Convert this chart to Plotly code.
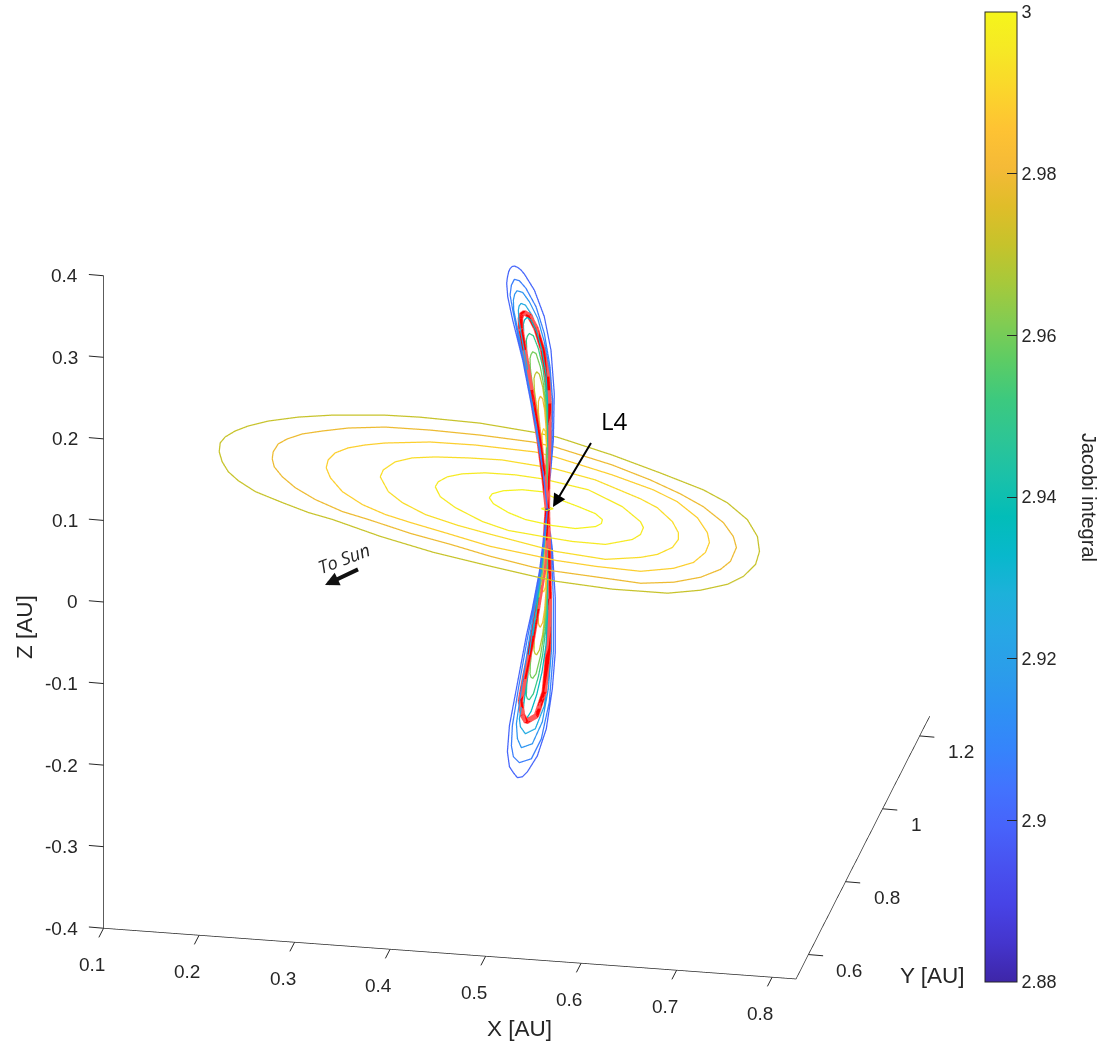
import plotly.graph_objects as go

# Jacobi integral of each orbit
J_planar = [2.9714, 2.979, 2.9886, 2.9924, 2.996, 2.999]
J_vertical = [2.90, 2.907, 2.915, 2.925, 2.935, 2.95, 2.96, 2.97, 2.98, 2.99]

# Planar orbits around L4 (z = 0)
E1_x = [.1396,.136,.138,.145,.1555,.1732,.2014,.2347,.2882,.3245,.3882,.4463,.4731,.5378,.5956,.6477,.6786,.7076,.7264,.7361,.7388,.7328,.7208,.6965,.6648,.6366,.6072,.5456,.5209,.4723,.4075,.3458,.2887,.2609,.2294,.1966,.1737,.159,.1477]
E1_y = [.9527,.9765,.9933,1.011,1.0266,1.0436,1.0599,1.0717,1.0819,1.0834,1.0792,1.0657,1.0572,1.0205,.9824,.9461,.9165,.8756,.8329,.7939,.7589,.725,.7009,.6799,.6656,.6657,.6655,.6756,.6845,.7025,.7283,.7602,.7957,.8094,.8307,.8544,.8801,.9018,.927]
E2_x = [.1967,.1941,.1951,.2016,.2141,.2328,.2575,.2944,.3413,.3944,.4515,.4762,.543,.5891,.6266,.6565,.6849,.7021,.7108,.7119,.706,.6899,.6652,.6325,.6021,.5405,.5162,.4672,.4206,.3746,.325,.2946,.2612,.2348,.2161,.2028]
E2_y = [.9445,.9631,.9851,1.0,1.016,1.0277,1.0407,1.0504,1.0512,1.0476,1.0394,1.0305,.9942,.962,.931,.9014,.8631,.8282,.7999,.762,.7389,.7141,.6958,.6867,.6918,.7019,.7082,.7288,.7527,.7739,.8026,.8186,.845,.8726,.899,.9238]
E3_x = [.2558,.2537,.2572,.2677,.2834,.3026,.3475,.3944,.4586,.4814,.5481,.5972,.6276,.656,.6738,.681,.6821,.6752,.658,.6263,.5783,.5348,.5146,.462,.412,.3689,.3396,.3112,.2844,.2651]
E3_y = [.9312,.9526,.9723,.9881,.9992,1.0083,1.0196,1.0204,1.0136,1.0042,.9679,.9364,.9095,.8712,.8337,.8078,.7807,.7521,.7326,.7183,.7227,.7308,.7379,.7551,.781,.8028,.819,.8409,.8712,.9057]
E4_x = [.315,.3145,.3224,.3375,.3602,.3941,.4294,.4688,.4875,.5336,.5888,.6105,.6329,.6445,.6481,.6462,.6346,.6191,.5847,.5302,.5129,.4523,.4189,.38,.3505,.3308]
E4_y = [.9179,.9369,.9603,.9741,.9811,.9849,.9861,.9773,.9727,.9514,.9102,.8898,.8559,.8281,.8097,.7876,.7663,.7551,.7431,.7545,.7622,.7887,.8041,.8267,.8539,.8801]
E5_x = [.3756,.3761,.3827,.3962,.4189,.4502,.4796,.4942,.5316,.5747,.6006,.6067,.6073,.6017,.577,.5422,.5094,.4907,.4719,.4411,.4066,.3858]
E5_y = [.9022,.916,.9308,.9416,.9487,.9492,.9439,.9385,.9239,.8858,.8497,.8345,.8155,.8009,.7826,.784,.7914,.7961,.8007,.8193,.8509,.8769]
E6_x = [.4358,.4368,.4463,.465,.4863,.4988,.5303,.5511,.5612,.5622,.5578,.5386,.5137,.4835,.4627,.4429]
E6_y = [.8837,.8948,.9048,.9112,.9097,.8985,.8773,.8621,.8477,.837,.8279,.8188,.8223,.8329,.848,.8687]
E7_x = [.494,.5,.506,.5]
E7_y = [.865,.871,.867,.861]

# Vertical orbits: offset towards the Sun and height, upper lobe
V1_r = [.0073,.0204,.0386,.0543,.0621,.0637,.0626,.0605,.0584,.0553,.0516,.0465,.0412,.036,.0204,.0047,-.0057,-.0109,-.0094,-.0041]
V1_z = [.0537,.1154,.1954,.2499,.2813,.2982,.3051,.3115,.3143,.3158,.3152,.3118,.3067,.3,.275,.2368,.1923,.1374,.0806,.0333]
V2_r = [.0073,.0203,.036,.049,.0542,.0584,.0563,.0516,.0438,.0334,.0177,.0047,-.0042,-.0083,-.0073,-.0031]
V2_z = [.0496,.1154,.1863,.2399,.2622,.282,.2935,.2989,.2945,.2815,.2536,.2164,.1724,.13,.0772,.0337]
V3_r = [.0063,.0177,.0334,.0464,.0527,.0532,.0511,.0475,.0386,.0282,.0151,.0047,-.0031,-.0063,-.0052,-.0021]
V3_z = [.0492,.1104,.1813,.2349,.2616,.2741,.2807,.2835,.2784,.2634,.2384,.2061,.1686,.1267,.078,.034]
V4_r = [.0057,.0167,.0308,.0412,.0448,.0454,.0443,.0412,.0344,.024,.0125,.0037,-.0021,-.0047,-.0037,-.001]
V4_z = [.049,.1101,.1804,.229,.2487,.2591,.2636,.2658,.2614,.2455,.2191,.1915,.1608,.1231,.0785,.0344]
V5_r = [.0042,.0125,.0229,.0318,.037,.0375,.0355,.0318,.0256,.0167,.0083,.0021,-.0005,-.0005,0]
V5_z = [.0362,.0882,.1491,.1971,.2276,.2392,.2438,.2454,.24,.2225,.1972,.1664,.1288,.0798,.0348]
V6_r = [.0037,.0115,.0203,.0282,.0323,.0329,.0313,.0282,.0219,.0141,.0073,.0031,.0005,.0005,.0005]
V6_z = [.036,.0837,.1359,.1795,.2055,.218,.2223,.2245,.2195,.2012,.1764,.1504,.1168,.0716,.0307]
V7_r = [.0031,.0094,.0167,.0229,.0266,.0271,.0256,.0229,.0177,.011,.0057,.0026,.0016,.001]
V7_z = [.0318,.0748,.1182,.1573,.181,.1935,.1978,.2002,.1963,.1776,.1533,.1256,.0926,.0515]
V8_r = [.0021,.0063,.0115,.0167,.0203,.0209,.0193,.0167,.0125,.0073,.0037,.0021,.001,.0005]
V8_z = [.0232,.0574,.096,.1305,.1522,.1667,.1711,.1735,.1692,.1518,.1301,.105,.0679,.0307]
V9_r = [.0026,.0063,.011,.0141,.0141,.0125,.011,.0073,.0042,.0021,.001,.0005]
V9_z = [.0316,.0656,.0999,.1235,.1357,.1397,.1416,.1371,.1221,.1009,.0719,.0348]
V10_r = [.0031,.0057,.0078,.0083,.0073,.0057,.0031,.0016,.0005,.0005]
V10_z = [.04,.0654,.0825,.0929,.0978,.1002,.0952,.0803,.0595,.0307]
RED_r = [.0047,.0136,.0256,.036,.0417,.0422,.0402,.036,.0282,.0177,.0073,0,-.0026,-.0021,-.0005]
RED_z = [.0364,.0926,.1541,.2067,.2353,.2478,.2519,.2526,.2462,.227,.1968,.1616,.1279,.0831,.0346]

# Lower lobes read separately for the largest orbits
V1_low_r = [.0125,.0235,.0329,.0485,.0594,.0626,.0594,.0532,.0469,.0391,.0313,.0156,.0016,-.0078,-.0125,-.0125,-.0078]
V1_low_z = [-.073,-.1146,-.1444,-.204,-.2456,-.2764,-.2959,-.3055,-.3137,-.3153,-.3119,-.2977,-.2693,-.2236,-.1798,-.1147,-.0518]
V2_low_r = [.011,.0219,.0313,.0454,.0548,.0563,.0532,.0438,.025,.0094,-.0031,-.0094,-.0094,-.0063]
V2_low_z = [-.0735,-.1151,-.1487,-.2052,-.2472,-.2713,-.2859,-.2964,-.298,-.2789,-.2379,-.1788,-.1138,-.0513]
V3_low_r = [.0094,.0203,.0282,.0407,.0485,.0469,.0407,.0235,.0078,-.0016,-.0063,-.0063,-.0047]
V3_low_z = [-.074,-.1157,-.1497,-.2068,-.247,-.2659,-.2791,-.2802,-.2586,-.2213,-.1777,-.1127,-.0507]
V4_low_r = [.0078,.0172,.025,.036,.0438,.0422,.0344,.0188,.0047,-.0031,-.0047,-.0031]
V4_low_z = [-.0746,-.1167,-.1508,-.2083,-.2425,-.2529,-.2642,-.2634,-.2401,-.1974,-.1243,-.0502]
RED_low_r = [.0063,.0156,.0235,.036,.0422,.0391,.0329,.0172,.0047,-.0016,-.0031,-.0016]
RED_low_z = [-.0751,-.1173,-.1514,-.1961,-.221,-.2393,-.2499,-.248,-.2229,-.1723,-.1115,-.0496]

L4_x, L4_y = 0.5, 0.866
X_RANGE = (.1, .825)
Y_RANGE = (.533, 1.254)
Z_RANGE = (-.4, .4)
X_TICKS = [.1,.2,.3,.4,.5,.6,.7,.8]
Y_TICKS = [.6,.8,1,1.2]
Z_TICKS = [-.4,-.3,-.2,-.1,0,.1,.2,.3,.4]
CB_TICKS = [2.88,2.9,2.92,2.94,2.96,2.98,3]

PARULA = ["#3e26a8","#4435cd","#4743e6","#4852f0","#4763fb","#4273fe","#3584fb","#2e91f4","#2b9dea","#27a7e5","#1db1da","#08b8cc","#02bdb8","#1ac1a9","#2dc595","#3cc97f","#5ccc65","#82cc52","#a6c93b","#c6c32b","#e0bd29","#f5ba37","#fec333","#fbd62b","#f6e825","#f5f51b"]

def orbit(r, z, low_r=None, low_z=None):
    # figure-eight: upper lobe, then the lower lobe (its mirror image unless read separately)
    if low_r is None:
        low_r, low_z = list(r), [-v for v in z]
    rr = [0] + list(r) + [0] + list(low_r) + [0]
    zz = [0] + list(z) + [0] + list(low_z) + [0]
    xs = [L4_x - 0.5 * v for v in rr]
    ys = [L4_y - 0.866 * v for v in rr]
    return xs, ys, zz

fig = go.Figure()
TRACE_W = 2.5
for J, (ex, ey) in zip(J_planar + [3.0], [(E1_x,E1_y),(E2_x,E2_y),(E3_x,E3_y),(E4_x,E4_y),(E5_x,E5_y),(E6_x,E6_y),(E7_x,E7_y)]):
    xs = ex + ex[:1]; ys = ey + ey[:1]
    fig.add_trace(go.Scatter3d(x=xs, y=ys, z=[0]*len(xs), mode="lines", showlegend=False, hoverinfo="skip",
                               line=dict(color=[J]*len(xs), coloraxis="coloraxis", width=TRACE_W)))
VERTICAL = [(V1_r,V1_z,V1_low_r,V1_low_z),(V2_r,V2_z,V2_low_r,V2_low_z),(V3_r,V3_z,V3_low_r,V3_low_z),(V4_r,V4_z,V4_low_r,V4_low_z),
            (V5_r,V5_z),(V6_r,V6_z),(V7_r,V7_z),(V8_r,V8_z),(V9_r,V9_z),(V10_r,V10_z)]
for J, args in zip(J_vertical, VERTICAL):
    xs, ys, zs = orbit(*args)
    fig.add_trace(go.Scatter3d(x=xs, y=ys, z=zs, mode="lines", showlegend=False, hoverinfo="skip",
                               line=dict(color=[J]*len(xs), coloraxis="coloraxis", width=TRACE_W)))
xs, ys, zs = orbit(RED_r, RED_z, RED_low_r, RED_low_z)
fig.add_trace(go.Scatter3d(x=xs, y=ys, z=zs, mode="lines", showlegend=False, hoverinfo="skip",
                           line=dict(color="rgb(255,90,90)", width=11)))
fig.add_trace(go.Scatter3d(x=xs, y=ys, z=zs, mode="lines", showlegend=False, hoverinfo="skip",
                           line=dict(color="rgb(255,0,0)", width=8)))
fig.add_trace(go.Scatter3d(x=[L4_x], y=[L4_y], z=[0], mode="markers", showlegend=False, hoverinfo="skip",
                           marker=dict(size=2.5, color="rgb(0,0,190)", symbol="square")))

# camera: azimuth 10.9 deg, elevation 22.3 deg, orthographic; panned to put the cube where it sits
DIR = (0.1754, -0.9085, 0.3794)
CEN = (0.0720, -0.0053, -0.0461)
R = 1.79
ZOOM = 1.351
INK = "#262626"
TICK_FONT = dict(size=19, color=INK)
def axis(rng, ticks):
    return dict(title=dict(text=""), range=list(rng), tickmode="array", tickvals=ticks, showticklabels=False,
                showgrid=False, zeroline=False, showbackground=False,
                showline=True, linecolor=INK, linewidth=1.5, ticks="", showspikes=False, mirror=False)

def tick_mark(x, y, z, ax, ay):
    return dict(x=x, y=y, z=z, text=" ", showarrow=True, arrowhead=0, arrowwidth=1, arrowcolor=INK, ax=ax, ay=ay, standoff=0)

labels = []
for v in X_TICKS:
    labels.append(tick_mark(v, Y_RANGE[0], Z_RANGE[0], -7.7, 15))
    labels.append(dict(x=v, y=Y_RANGE[0], z=Z_RANGE[0], text=f"{v:g}", showarrow=False, font=TICK_FONT, xshift=-12, yshift=-36))
for v in Y_TICKS:
    labels.append(tick_mark(X_RANGE[1], v, Z_RANGE[0], 17.7, 1.5))
    labels.append(dict(x=X_RANGE[1], y=v, z=Z_RANGE[0], text=f"{v:g}", showarrow=False, font=TICK_FONT, xanchor="left", xshift=26, yshift=-16))
for v in Z_TICKS:
    labels.append(tick_mark(X_RANGE[0], Y_RANGE[0], v, -17.7, -1.5))
    labels.append(dict(x=X_RANGE[0], y=Y_RANGE[0], z=v, text=f"{v:g}", showarrow=False, font=TICK_FONT, xanchor="right", xshift=-24, yshift=0))

def note(px, py, text, size, **kw):
    font = dict(size=size, color=kw.pop("color", INK))
    if "family" in kw:
        font["family"] = kw.pop("family")
    return dict(xref="paper", yref="paper", x=px/1106, y=1-py/1044, text=text, showarrow=False,
                xanchor="center", yanchor="middle", font=font, **kw)

fig.update_layout(
    width=1106, height=1044, margin=dict(l=0, r=0, t=0, b=0), paper_bgcolor="white",
    font=dict(family="Liberation Sans, Arial, sans-serif", color=INK),
    scene=dict(
        domain=dict(x=[0, 1], y=[0, 1]),
        aspectmode="manual",
        aspectratio=dict(x=ZOOM, y=ZOOM, z=ZOOM),
        camera=dict(projection=dict(type="orthographic"),
                    up=dict(x=0, y=0, z=1),
                    center=dict(x=CEN[0], y=CEN[1], z=CEN[2]),
                    eye=dict(x=CEN[0]+R*DIR[0], y=CEN[1]+R*DIR[1], z=CEN[2]+R*DIR[2])),
        xaxis=axis(X_RANGE, X_TICKS),
        yaxis=axis(Y_RANGE, Y_TICKS),
        zaxis=axis(Z_RANGE, Z_TICKS),
        annotations=labels,
    ),
    coloraxis=dict(cmin=2.88, cmax=3, colorscale=[[i/(len(PARULA)-1), c] for i, c in enumerate(PARULA)],
                   colorbar=dict(x=985/1106, xanchor="left", xpad=0, y=1-497/1044, yanchor="middle", ypad=0,
                                 thickness=32, thicknessmode="pixels", len=970, lenmode="pixels",
                                 outlinecolor=INK, outlinewidth=1,
                                 tickmode="array", tickvals=CB_TICKS, ticktext=[f"{v:g}" for v in CB_TICKS],
                                 ticks="inside", ticklen=10, tickcolor=INK, tickwidth=1,
                                 tickfont=dict(size=18, color=INK))),
    annotations=[
        note(519, 1028, "X [AU]", 22.5),
        note(932, 975, "Y [AU]", 22.5),
        note(24, 627, "Z [AU]", 22.5, textangle=-90),
        note(1089, 497, "Jacobi integral", 20, textangle=90),
        note(614, 421, "L4", 24, family="Open Sans", color="black"),
        dict(xref="paper", yref="paper", x=553/1106, y=1-507/1044, ax=41, ay=-69, text=" ", showarrow=True,
             arrowhead=2, arrowsize=1.3, arrowwidth=2, arrowcolor="black", standoff=0),
        note(344, 558, "<i>To Sun</i>", 18, family="Open Sans", textangle=-21),
        dict(xref="paper", yref="paper", x=325/1106, y=1-585/1044, ax=36, ay=-17, text=" ", showarrow=True,
             arrowhead=2, arrowsize=0.7, arrowwidth=4, arrowcolor="#111111", standoff=0),
    ],
)
fig.write_html("out.html", config={"displayModeBar": False},
               post_script="document.body.style.margin='0';document.body.style.overflow='hidden';")
